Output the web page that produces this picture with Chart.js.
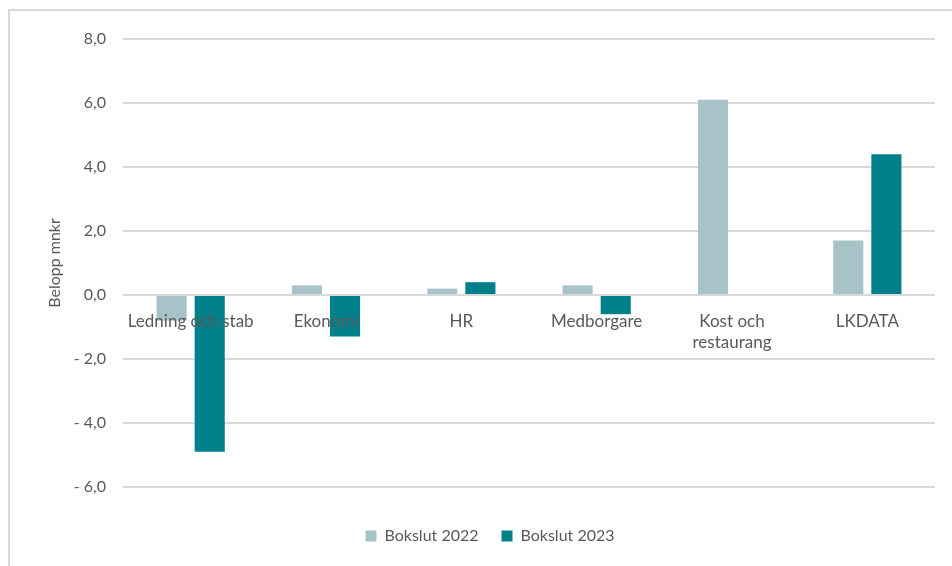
<!DOCTYPE html>
<html>
<head>
<meta charset="utf-8">
<script src="https://cdn.jsdelivr.net/npm/chart.js@4.4.1/dist/chart.umd.min.js"></script>
<style>
  html, body { margin: 0; padding: 0; background: #ffffff; }
  body { width: 952px; height: 566px; position: relative; overflow: hidden; }
  #frame { position: absolute; left: 8px; top: 9px; width: 1000px; height: 600px;
           border-top: 2px solid #d9d9d9; border-left: 2px solid #d9d9d9; }
  #wrap { position: absolute; left: 0; top: 0; width: 952px; height: 566px; }
</style>
</head>
<body>
<div id="frame"></div>
<div id="wrap"><canvas id="c" width="952" height="566"></canvas></div>
<script>
const categories = ['Ledning och stab', 'Ekonomi', 'HR', 'Medborgare', ['Kost och', 'restaurang'], 'LKDATA'];
const seriesNames = ['Bokslut 2022', 'Bokslut 2023'];
const bokslut2022 = [-0.8, 0.3, 0.2, 0.3, 6.1, 1.7];
const bokslut2023 = [-4.9, -1.3, 0.4, -0.6, 0.0, 4.4];
const yTickValues = [-6, -4, -2, 0, 2, 4, 6, 8];
const yAxisTitle = 'Belopp mnkr';

const textColor = '#595959';
const fontFamily = 'Lato, "Open Sans", sans-serif';

function fmt(v) {
  const s = Math.abs(v).toFixed(1).replace('.', ',');
  return v < 0 ? '- ' + s : s;
}

new Chart(document.getElementById('c'), {
  type: 'bar',
  data: {
    labels: categories,
    datasets: [
      { label: seriesNames[0], data: bokslut2022, backgroundColor: '#a7c3c8',
        categoryPercentage: 0.563, barPercentage: 0.79 },
      { label: seriesNames[1], data: bokslut2023, backgroundColor: '#00808a',
        categoryPercentage: 0.563, barPercentage: 0.79 }
    ]
  },
  options: {
    responsive: false,
    animation: false,
    events: [],
    layout: { padding: { left: 45, top: 39, right: 17, bottom: 12 } },
    plugins: {
      tooltip: { enabled: false },
      legend: {
        position: 'bottom',
        labels: {
          boxWidth: 11, boxHeight: 11, padding: 23, color: textColor,
          font: { family: fontFamily, size: 16 }
        }
      }
    },
    scales: {
      x: {
        position: { y: 0 },
        grid: { display: false },
        border: { display: false },
        ticks: { z: 1, color: textColor, font: { family: fontFamily, size: 17, lineHeight: 1.22 }, padding: 8, maxRotation: 0, autoSkip: false }
      },
      xs: {
        type: 'category',
        labels: categories,
        position: 'bottom',
        display: true,
        grid: { display: false },
        border: { display: false },
        ticks: { display: false },
        afterFit: (s) => { s.height = 18; }
      },
      y: {
        min: yTickValues[0],
        max: yTickValues[yTickValues.length - 1],
        afterBuildTicks: (s) => { s.ticks = yTickValues.map(v => ({ value: v })); },
        ticks: {
          color: textColor, font: { family: fontFamily, size: 16 }, padding: 17,
          callback: (v) => fmt(v)
        },
        grid: { color: '#d9d9d9', lineWidth: 2, drawTicks: false },
        border: { display: false },
        title: { display: true, text: yAxisTitle, color: textColor, padding: 0,
                 font: { family: fontFamily, size: 16 } },
        afterFit: (s) => { s.width = 78; }
      }
    }
  }
});
</script>
</body>
</html>
